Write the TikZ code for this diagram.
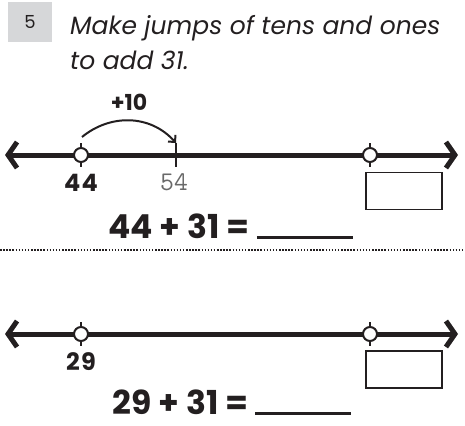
\documentclass[tikz,border=0pt]{standalone}
\usepackage{fontspec}
\setmainfont{Poppins}
\newfontfamily\spacedfont[LetterSpace=6]{Poppins}
\usetikzlibrary{arrows.meta}
\definecolor{BoxGrey}{RGB}{214,215,217}
\definecolor{InkBlack}{RGB}{35,31,32}
\definecolor{PencilGrey}{RGB}{105,105,105}

\begin{document}
\begin{tikzpicture}[x=1pt,y=-1pt,
    numline/.style={line width=5pt,draw=InkBlack,
      {Straight Barb[length=9pt,width=26pt]}-{Straight Barb[length=9pt,width=26pt]}},
    openpt/.style={circle,draw=InkBlack,fill=white,line width=2pt,
      minimum size=14pt,inner sep=0pt},
    tickln/.style={line width=2pt,draw=InkBlack},
    ansbox/.style={draw=InkBlack,line width=1.6pt,minimum width=76pt,
      minimum height=37pt,inner sep=0pt},
    ptlabel/.style={font=\spacedfont\bfseries\fontsize{24}{24}\selectfont,text=InkBlack},
    sumtext/.style={anchor=base west,font=\bfseries\fontsize{33}{33}\selectfont,
      text=InkBlack,inner sep=0pt}]
  \useasboundingbox (0,0) rectangle (465,425);

  % question number and instruction
  \node[fill=BoxGrey,minimum width=44pt,minimum height=40pt,
        font=\fontsize{18}{18}\selectfont,text=InkBlack] (qnum) at (30,22.5) {5};
  \node[anchor=base west,inner sep=0pt,font=\itshape\fontsize{25}{25}\selectfont,
        text=InkBlack] (title1) at (70,35) {Make jumps of tens and ones};
  \node[anchor=base west,inner sep=0pt,font=\itshape\fontsize{25}{25}\selectfont,
        text=InkBlack] (title2) at (70,70) {to add 31.};

  % first number line
  \coordinate (ltipA) at (5,155);
  \coordinate (rtipA) at (458,155);
  \draw[numline] (ltipA) -- (rtipA);
  \coordinate (jumpS) at (82,137);
  \coordinate (tick54t) at (176,143);
  \coordinate (tick54b) at (176,167);
  \draw[tickln] (tick54t) -- (tick54b);
  \draw[tickln] (81,143) -- (81,167);
  \draw[tickln] (370,143) -- (370,167);
  \node[openpt] (p44) at (81,155) {};
  \node[openpt] (endA) at (370,155) {};
  \draw[line width=2pt,InkBlack,-{Straight Barb[length=5pt,width=10pt]}]
    (jumpS) .. controls (110,114) and (150,114) .. (tick54t);
  \node[font=\bfseries\fontsize{22}{22}\selectfont,text=InkBlack] (plus10) at (129,102) {+10};
  \node[ptlabel] (lbl44) at (81,183) {44};
  \node[font=\ttfamily\fontsize{27}{27}\selectfont,text=PencilGrey] (lbl54) at (174,182) {54};
  \node[ansbox] (boxA) at (404,191) {};
  \node[sumtext] (sumA) at (108,238) {44 + 31 = \rule[-1pt]{96pt}{3pt}};

  % dotted divider
  \coordinate (divL) at (0,250);
  \coordinate (divR) at (465,250);
  \draw[line width=1.5pt,InkBlack,dash pattern=on 1.5pt off 1.6pt] (divL) -- (divR);

  % second number line
  \coordinate (ltipB) at (5,334);
  \coordinate (rtipB) at (458,334);
  \draw[numline] (ltipB) -- (rtipB);
  \draw[tickln] (81,322) -- (81,346);
  \draw[tickln] (370,322) -- (370,346);
  \node[openpt] (p29) at (81,334) {};
  \node[openpt] (endB) at (370,334) {};
  \node[ptlabel] (lbl29) at (81,362) {29};
  \node[ansbox] (boxB) at (404,369.5) {};
  \node[sumtext] (sumB) at (112,414) {29 + 31 = \rule[-1pt]{96pt}{3pt}};
\end{tikzpicture}
\end{document}
